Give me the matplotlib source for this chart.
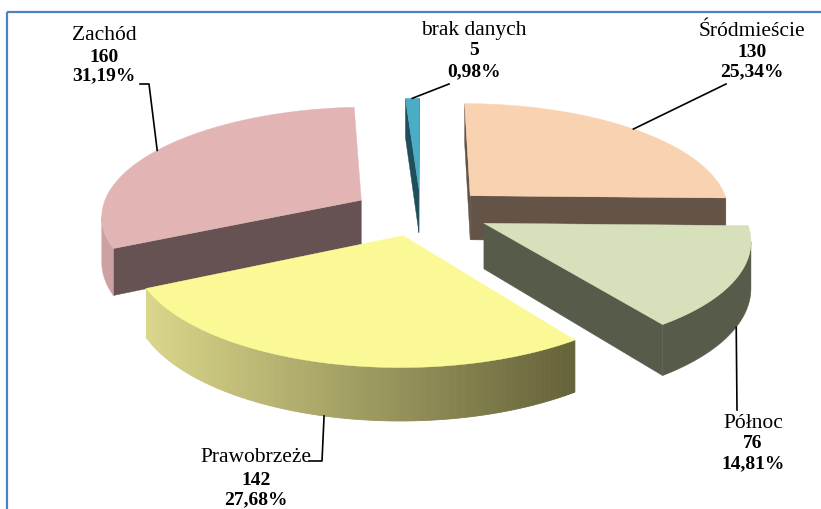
import numpy as np
import matplotlib.pyplot as plt
from matplotlib.patches import Polygon, Rectangle
from matplotlib.colors import to_rgb

# data (clockwise from 12 o'clock)
names = ['Śródmieście', 'Północ', 'Prawobrzeże', 'Zachód', 'brak danych']
counts = [130, 76, 142, 160, 5]
pct_labels = ['25,34%', '14,81%', '27,68%', '31,19%', '0,98%']

top_colors = ['#F9D2B2', '#D6E0BA', '#FAF996', '#E2B5B4', '#4BACC6']
wall_colors = ['#645447', '#575B49', '#8A8750', '#665253', '#1F4F5B']
rim_colors = ['#6E5C4E', '#575B49', ('#DAD68A', '#646238'), '#CDA1A1', '#2A6373']

# label layout: text centre x, baselines of the three lines, leader start points
label_x = [752, 753, 256, 104, 474]
label_y = [(36, 57, 76), (428, 448, 468), (462, 485, 504), (40, 62, 80), (35, 55, 76)]
leader_start = [[(726, 84)], [(737, 410)], [(309, 461), (322, 461)],
                [(140, 84), (149, 84)], [(449, 84)]]

# fake 3d projection
cx, cy = 421, 212
rx, ry = 260, 108
persp = 0.13
depth = 45
explode_x, explode_y = 0.27, 0.22


def proj(x, y, z=0.0):
    k = 1.0 / (1.0 + persp * y)
    return cx + rx * x * k, cy - (ry * y + z) * k


def area(pts):
    p = np.asarray(pts)
    x, y = p[:, 0], p[:, 1]
    return 0.5 * np.sum(x * np.roll(y, -1) - np.roll(x, -1) * y)


fig = plt.figure(figsize=(8.21, 5.09), dpi=100)
ax = fig.add_axes([0, 0, 1, 1])
ax.set_xlim(0, 821)
ax.set_ylim(509, 0)
ax.axis('off')

ax.add_patch(Rectangle((7, 12), 830, 600, fill=False, edgecolor='#4F81BD', lw=1.6))

total = float(sum(counts))
bounds = np.concatenate([[0], np.cumsum(counts)]) / total * 2 * np.pi
mids = (bounds[:-1] + bounds[1:]) / 2

# back slices first
order = np.argsort(-np.cos(mids))

for i in order:
    a, b = bounds[i], bounds[i + 1]
    ox, oy = explode_x * np.sin(mids[i]), explode_y * np.cos(mids[i])
    phis = np.linspace(a, b, max(int(np.degrees(b - a) * 2), 4))
    arc = [(ox + np.sin(t), oy + np.cos(t)) for t in phis]

    top = [proj(ox, oy)] + [proj(x, y) for x, y in arc]
    top_sign = np.sign(area(top))

    # radial walls
    apex_t, apex_b = proj(ox, oy), proj(ox, oy, -depth)
    s_t, s_b = proj(*arc[0]), proj(*arc[0], -depth)
    e_t, e_b = proj(*arc[-1]), proj(*arc[-1], -depth)
    for quad in ([apex_t, s_t, s_b, apex_b], [apex_t, apex_b, e_b, e_t]):
        if np.sign(area(quad)) != top_sign:
            ax.add_patch(Polygon(quad, closed=True, facecolor=wall_colors[i],
                                 edgecolor=wall_colors[i], lw=0.3))

    # outer wall
    segs = []
    for j in range(len(arc) - 1):
        q = [proj(*arc[j]), proj(*arc[j + 1]),
             proj(*arc[j + 1], -depth), proj(*arc[j], -depth)]
        if np.sign(area(q)) != top_sign:
            segs.append(q)
    if segs:
        rc = rim_colors[i]
        if isinstance(rc, tuple):
            c0, c1 = np.array(to_rgb(rc[0])), np.array(to_rgb(rc[1]))
            xs = [q[0][0] for q in segs] + [segs[-1][1][0]]
            x0, x1 = min(xs), max(xs)
            for q in segs:
                f = ((q[0][0] + q[1][0]) / 2 - x0) / (x1 - x0)
                col = c0 + (c1 - c0) * f
                ax.add_patch(Polygon(q, closed=True, facecolor=col,
                                     edgecolor=col, lw=0.6))
        else:
            poly = [q[0] for q in segs] + [segs[-1][1], segs[-1][2]] + \
                   [q[3] for q in segs[::-1]]
            ax.add_patch(Polygon(poly, closed=True, facecolor=rc,
                                 edgecolor=rc, lw=0.3))

    ax.add_patch(Polygon(top, closed=True, facecolor=top_colors[i],
                         edgecolor=top_colors[i], lw=0.3))

# labels with leader lines
for i in range(len(names)):
    xm = explode_x * np.sin(mids[i]) + np.sin(mids[i])
    ym = explode_y * np.cos(mids[i]) + np.cos(mids[i])
    anchor = proj(xm, ym, 0 if np.cos(mids[i]) >= 0 else -depth)
    pts = leader_start[i] + [anchor]
    ax.plot([p[0] for p in pts], [p[1] for p in pts], color='black', lw=1.2)

    y0, y1, y2 = label_y[i]
    ax.text(label_x[i], y0, names[i], ha='center', va='baseline',
            fontsize=15.5, family='Liberation Serif')
    ax.text(label_x[i], y1, str(counts[i]), ha='center', va='baseline',
            fontsize=14, family='Liberation Serif', fontweight='bold')
    ax.text(label_x[i], y2, pct_labels[i], ha='center', va='baseline',
            fontsize=14, family='Liberation Serif', fontweight='bold')

fig.savefig('out.png', dpi=100)
